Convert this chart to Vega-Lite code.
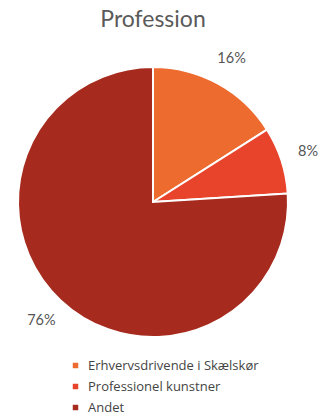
{
  "$schema": "https://vega.github.io/schema/vega-lite/v6.json",
  "autosize": "none",
  "padding": {"left": 0, "top": 0, "right": 12, "bottom": 13},
  "width": 306,
  "height": 404,
  "background": "white",
  "title": {
    "text": "Profession",
    "offset": -32,
    "anchor": "middle",
    "font": "Lato",
    "fontSize": 23,
    "fontWeight": "normal",
    "color": "#5a5a5a"
  },
  "data": {
    "values": [
      {"category": "Erhvervsdrivende i Skælskør", "value": 16, "label": "16%", "order": 1},
      {"category": "Professionel kunstner", "value": 8, "label": "8%", "order": 2},
      {"category": "Andet", "value": 76, "label": "76%", "order": 3}
    ]
  },
  "encoding": {
    "theta": {"field": "value", "type": "quantitative", "stack": true},
    "order": {"field": "order", "type": "quantitative"}
  },
  "layer": [
    {
      "mark": {"type": "arc", "outerRadius": 135, "stroke": "white", "strokeWidth": 2},
      "encoding": {
        "color": {
          "field": "category",
          "type": "nominal",
          "scale": {
            "domain": ["Erhvervsdrivende i Skælskør", "Professionel kunstner", "Andet"],
            "range": ["#ee6b30", "#e8442c", "#a62b1e"]
          },
          "legend": {
            "title": null,
            "orient": "none",
            "legendX": 69,
            "legendY": 359,
            "symbolType": "square",
            "symbolSize": 30,
            "symbolStrokeWidth": 0,
            "labelFont": "Open Sans",
            "labelFontSize": 13,
            "labelColor": "#444444",
            "labelOffset": 6,
            "labelLimit": 300,
            "rowPadding": 7
          }
        }
      }
    },
    {
      "mark": {"type": "text", "radius": 163, "font": "Lato", "fontSize": 14.5, "color": "#555555"},
      "encoding": {
        "text": {"field": "label", "type": "nominal"}
      }
    }
  ]
}
